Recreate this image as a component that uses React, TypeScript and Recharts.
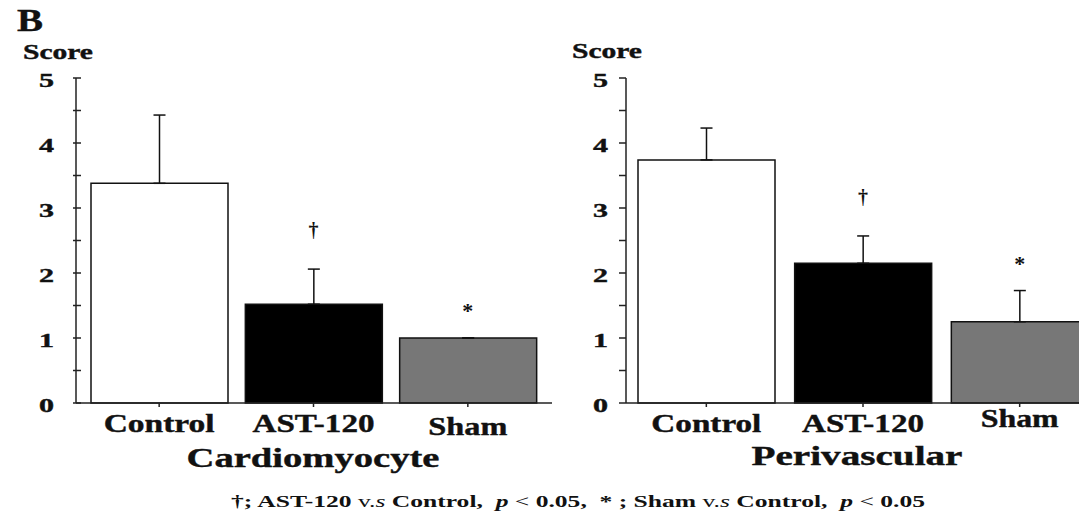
import { BarChart, Bar, XAxis, YAxis, ErrorBar, Cell, ReferenceDot } from "recharts";

const groups = ["Control", "AST-120", "Sham"];
const cardioMean = [3.38, 1.52, 1.0];
const cardioErr = [1.05, 0.54, 0];
const periMean = [3.74, 2.15, 1.25];
const periErr = [0.49, 0.42, 0.48];
const marks = ["", "†", "*"];
const scoreTicks = [0, 0.5, 1, 1.5, 2, 2.5, 3, 3.5, 4, 4.5, 5];
const barColors = ["#ffffff", "#000000", "#777777"];

const serif = "'Liberation Serif', 'Times New Roman', serif";
const ink = "#111";

type Panel = {
  left: number;
  width: number;
  yAxisWidth: number;
  padL: number;
  padR: number;
  marginR: number;
  means: number[];
  errs: number[];
  labelGap: number;
  cross: boolean;
  xBase: number[];
  xWidths: number[];
};

function YTick(props: any) {
  const { x, y, payload, gap, cross } = props;
  const major = Number.isInteger(payload.value);
  return (
    <g>
      <line x1={x - (cross ? 3 : 7)} x2={x + (cross ? 5 : 0)} y1={y} y2={y} stroke="#222" strokeWidth={1.5} />
      {major && (
        <text x={x - gap} y={y + 9} textAnchor="end" fontSize={19} fontWeight="bold" fontFamily={serif}
          textLength={15} lengthAdjust="spacingAndGlyphs" fill={ink} stroke={ink} strokeWidth={0.4}>
          {payload.value}
        </text>
      )}
    </g>
  );
}

function XTick(props: any) {
  const { x, payload, index, base, widths } = props;
  return (
    <text x={x} y={base[index]} textAnchor="middle" fontSize={25} fontWeight="bold" fontFamily={serif}
      textLength={widths[index]} lengthAdjust="spacingAndGlyphs" fill={ink} stroke={ink} strokeWidth={0.4}>
      {payload.value}
    </text>
  );
}

function Mark(props: any) {
  const { cx, cy, mark } = props;
  if (!mark) return <g />;
  const dagger = mark === "†";
  return (
    <text x={cx} y={cy - (dagger ? 32 : 20)} textAnchor="middle" fontSize={dagger ? 20 : 22} fontWeight="bold"
      fontFamily={serif} fill={ink}>
      {mark}
    </text>
  );
}

function ScorePanel(p: Panel) {
  const data = groups.map((g, i) => ({ group: g, mean: p.means[i], err: [0, p.errs[i]] }));
  return (
    <div style={{ position: "absolute", left: p.left, top: 0 }}>
      <BarChart width={p.width} height={512} data={data} margin={{ top: 78, right: p.marginR, bottom: 0, left: 0 }}>
        <XAxis dataKey="group" height={109} padding={{ left: p.padL, right: p.padR }} tickSize={4} tickMargin={0}
          axisLine={{ stroke: "#222", strokeWidth: 1.5 }} tickLine={{ stroke: "#222", strokeWidth: 1.5 }}
          tick={<XTick base={p.xBase} widths={p.xWidths} />} interval={0} />
        <YAxis width={p.yAxisWidth} domain={[0, 5]} ticks={scoreTicks} interval={0} tickSize={0} tickMargin={0}
          axisLine={{ stroke: "#222", strokeWidth: 1.5 }} tickLine={false}
          tick={<YTick gap={p.labelGap} cross={p.cross} />} />
        <Bar dataKey="mean" barSize={137} stroke={ink} strokeWidth={1.5} isAnimationActive={false}>
          {data.map((d, i) => (
            <Cell key={d.group} fill={barColors[i]} />
          ))}
          <ErrorBar dataKey="err" direction="y" width={6} stroke={ink} strokeWidth={1.5} isAnimationActive={false} />
        </Bar>
        {groups.map((g, i) =>
          marks[i] ? (
            <ReferenceDot key={g} x={g} y={p.means[i] + p.errs[i]} r={0} ifOverflow="visible"
              shape={(s: any) => <Mark {...s} mark={marks[i]} />} />
          ) : null
        )}
      </BarChart>
    </div>
  );
}

export default function App() {
  const bold = { fontFamily: serif, fontWeight: "bold" as const, fill: ink, stroke: ink, strokeWidth: 0.4 };
  return (
    <div style={{ position: "relative", width: 1079, height: 512, overflow: "hidden", background: "#fff" }}>
      <style>{`body{margin:0}`}</style>
      <ScorePanel left={0} width={560} yAxisWidth={76} padL={6} padR={7} marginR={8}
        means={cardioMean} errs={cardioErr} labelGap={22} cross={true}
        xBase={[432, 432, 435]} xWidths={[111, 122, 79]} />
      <ScorePanel left={540} width={562} yAxisWidth={86} padL={2} padR={0} marginR={4}
        means={periMean} errs={periErr} labelGap={18} cross={false}
        xBase={[432, 432, 427]} xWidths={[110, 122, 78]} />
      <svg width={1079} height={512} style={{ position: "absolute", left: 0, top: 0, pointerEvents: "none" }}>
        <text x={17} y={31} fontSize={32} textLength={26} lengthAdjust="spacingAndGlyphs" {...bold}>B</text>
        <text x={23} y={59} fontSize={20} textLength={70} lengthAdjust="spacingAndGlyphs" {...bold}>Score</text>
        <text x={572} y={58} fontSize={20} textLength={70} lengthAdjust="spacingAndGlyphs" {...bold}>Score</text>
        <text x={313} y={467} textAnchor="middle" fontSize={28} textLength={253} lengthAdjust="spacingAndGlyphs" {...bold}>
          Cardiomyocyte
        </text>
        <text x={857} y={465} textAnchor="middle" fontSize={27} textLength={211} lengthAdjust="spacingAndGlyphs" {...bold}>
          Perivascular
        </text>
        <text x={231} y={507} fontSize={17} textLength={694} lengthAdjust="spacingAndGlyphs" style={{ whiteSpace: "pre" }}
          fontFamily={serif} fontWeight="bold" fill={ink}>
          <tspan>†; AST-120 </tspan>
          <tspan fontWeight="normal">v.</tspan>
          <tspan fontWeight="normal" fontStyle="italic">s</tspan>
          <tspan> Control,  </tspan>
          <tspan fontStyle="italic">p</tspan>
          <tspan fontWeight="normal"> &lt; </tspan>
          <tspan>0.05,  * ; Sham </tspan>
          <tspan fontWeight="normal">v.</tspan>
          <tspan fontWeight="normal" fontStyle="italic">s</tspan>
          <tspan> Control,  </tspan>
          <tspan fontStyle="italic">p</tspan>
          <tspan fontWeight="normal"> &lt; </tspan>
          <tspan>0.05</tspan>
        </text>
      </svg>
    </div>
  );
}
